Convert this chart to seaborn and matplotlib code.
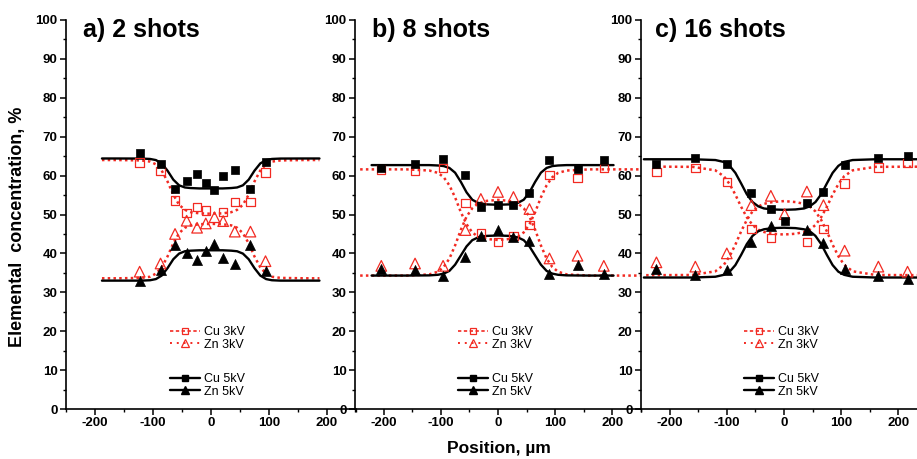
import numpy as np
import pandas as pd
import matplotlib
matplotlib.use('Agg')
import matplotlib.pyplot as plt
from matplotlib.lines import Line2D
from matplotlib.ticker import MultipleLocator
import seaborn as sns

# measured points: position (µm) and concentration (%)
pos_a = [-123, -87, -62, -42, -24, -9, 6, 21, 41, 68, 94]
cu5_a = [65.7, 63.0, 56.5, 58.7, 60.5, 58.1, 56.4, 60.0, 61.4, 56.6, 63.4]
cu3_a = [63.4, 61.2, 53.6, 50.3, 52.0, 51.0, np.nan, 50.7, 53.2, 53.2, 60.8]
zn3_a = [35.3, 37.4, 45.0, 48.4, 46.6, 47.7, 49.3, 48.3, 45.6, 45.6, 38.0]
zn5_a = [33.0, 35.7, 42.2, 40.2, 38.3, 40.7, 42.3, 38.8, 37.4, 42.1, 35.6]

pos_b = [-204, -145, -96, -57, -30, 0, 27, 55, 90, 139, 185]
cu5_b = [62.0, 62.9, 64.3, 60.2, 51.8, 52.5, 52.4, 55.4, 64.0, 61.7, 64.0]
cu3_b = [61.6, 61.2, 62.0, 52.9, 45.2, 43.0, 44.5, 47.3, 60.1, 59.3, 62.0]
zn3_b = [36.8, 37.4, 36.8, 46.0, 54.0, 55.8, 54.5, 51.4, 38.7, 39.4, 36.8]
zn5_b = [36.0, 35.7, 34.3, 39.0, 44.5, 46.0, 44.1, 43.2, 34.7, 37.0, 34.7]

pos_c = [-223, -155, -100, -57, -23, 1, 40, 69, 106, 165, 216]
cu5_c = [62.9, 64.4, 63.0, 55.6, 51.4, 48.4, 52.9, 55.8, 62.7, 64.4, 65.0]
cu3_c = [61.0, 62.0, 58.4, 46.3, 43.9, np.nan, 43.0, 46.3, 58.0, 62.1, 63.2]
zn3_c = [37.7, 36.6, 40.0, 52.4, 54.8, 50.1, 55.9, 52.4, 40.7, 36.6, 35.3]
zn5_c = [35.9, 34.4, 35.7, 43.0, 47.0, np.nan, 46.0, 42.8, 35.9, 34.3, 33.4]

fit_core = [-160, -120, -105, -95, -85, -75, -65, -55, -45, -35, -20, 0,
            20, 35, 45, 55, 65, 75, 85, 95, 105, 120, 160]

fit_cu5_a = [64.4, 64.4, 64.38, 64.28, 63.99, 63.13, 61.27, 58.96, 57.5, 56.95, 56.8, 56.7, 56.7,
             56.7, 56.8, 56.95, 57.5, 58.96, 61.27, 63.13, 63.99, 64.28, 64.38, 64.4, 64.4]
fit_cu3_a = [64.0, 64.0, 63.9, 63.6, 62.9, 61.3, 58.5, 55.1, 52.5, 51.2, 50.6, 50.3, 50.2,
             50.3, 50.6, 51.2, 52.5, 55.1, 58.5, 61.3, 62.9, 63.6, 63.9, 64.0, 64.0]
fit_zn3_a = [33.6, 33.6, 33.7, 34.0, 34.8, 36.4, 39.2, 42.6, 45.2, 46.6, 47.2, 47.5, 47.6,
             47.5, 47.2, 46.6, 45.2, 42.6, 39.2, 36.4, 34.8, 34.0, 33.7, 33.6, 33.6]
fit_zn5_a = [33.0, 33.0, 33.0, 33.1, 33.4, 34.3, 36.2, 38.5, 39.95, 40.55, 40.7, 40.8, 40.8,
             40.8, 40.7, 40.55, 39.95, 38.5, 36.2, 34.3, 33.4, 33.1, 33.0, 33.0, 33.0]

fit_cu5_b = [62.7, 62.7, 62.7, 62.6, 62.45, 61.97, 60.75, 58.4, 55.7, 53.8, 53.0, 52.6, 52.5,
             52.6, 53.0, 53.8, 55.7, 58.4, 60.75, 61.97, 62.45, 62.6, 62.7, 62.7, 62.7]
fit_cu3_b = [61.6, 61.6, 61.3, 60.7, 59.6, 57.5, 54.4, 50.6, 47.5, 45.4, 44.3, 43.7, 43.45,
             43.7, 44.3, 45.4, 47.5, 50.6, 54.4, 57.5, 59.6, 60.7, 61.3, 61.6, 61.6]
fit_zn3_b = [34.3, 34.3, 34.6, 35.3, 36.5, 38.65, 42.05, 46.05, 49.45, 51.6, 52.8, 53.5, 53.75,
             53.5, 52.8, 51.6, 49.45, 46.05, 42.05, 38.65, 36.5, 35.3, 34.6, 34.3, 34.3]
fit_zn5_b = [34.3, 34.3, 34.35, 34.5, 34.8, 35.5, 37.1, 39.45, 41.8, 43.4, 44.1, 44.5, 44.6,
             44.5, 44.1, 43.4, 41.8, 39.45, 37.1, 35.5, 34.8, 34.5, 34.35, 34.3, 34.3]

fit_cu5_c = [64.2, 64.2, 64.0, 63.5, 62.5, 60.7, 58.0, 55.2, 53.2, 52.1, 51.55, 51.3, 51.2,
             51.3, 51.55, 52.1, 53.2, 55.2, 58.0, 60.7, 62.5, 63.5, 64.0, 64.2, 64.2]
fit_cu3_c = [62.3, 62.25, 61.35, 59.8, 57.8, 55.1, 52.0, 49.3, 47.3, 46.1, 45.5, 45.05, 44.85,
             45.05, 45.5, 46.1, 47.3, 49.3, 52.0, 55.1, 57.8, 59.8, 61.35, 62.25, 62.3]
fit_zn3_c = [34.4, 34.45, 35.4, 37.1, 39.3, 42.25, 45.65, 48.6, 50.8, 52.05, 52.75, 53.2, 53.45,
             53.2, 52.75, 52.05, 50.8, 48.6, 45.65, 42.25, 39.3, 37.1, 35.4, 34.45, 34.4]
fit_zn5_c = [33.8, 33.8, 34.0, 34.5, 35.3, 37.0, 39.6, 42.4, 44.5, 45.7, 46.2, 46.5, 46.6,
             46.5, 46.2, 45.7, 44.5, 42.4, 39.6, 37.0, 35.3, 34.5, 34.0, 33.8, 33.8]

# end points of each fitted curve
ends_a = {'cu5': (-188, 187), 'zn5': (-188, 187), 'cu3': (-188, 187), 'zn3': (-188, 187)}
ends_b = {'cu5': (-221, 202), 'zn5': (-221, 202), 'cu3': (-241, 250), 'zn3': (-241, 250)}
ends_c = {'cu5': (-245, 250), 'zn5': (-245, 250), 'cu3': (-221, 250), 'zn3': (-241, 250)}

titles = ['a) 2 shots', 'b) 8 shots', 'c) 16 shots']
labels = ['Cu 3kV', 'Zn 3kV', 'Cu 5kV', 'Zn 5kV']

RED = '#f22a22'

sns.set_style('ticks')
plt.rcParams['font.family'] = ['Liberation Sans', 'DejaVu Sans']
plt.rcParams['font.weight'] = 'bold'
plt.rcParams['axes.unicode_minus'] = False
for k in ['text.color', 'axes.labelcolor', 'xtick.color', 'ytick.color']:
    plt.rcParams[k] = 'black'

fig = plt.figure(figsize=(9.17, 4.59), dpi=100)
fig.patch.set_facecolor('white')

# axes boxes in pixels: left, width (bottom at 409, top at 20)
boxes = [(66, 290), (355, 286), (641, 286)]
title_x = [0.058, 0.058, 0.05]

panels = [
    (pos_a, cu5_a, cu3_a, zn3_a, zn5_a, fit_cu5_a, fit_cu3_a, fit_zn3_a, fit_zn5_a, ends_a),
    (pos_b, cu5_b, cu3_b, zn3_b, zn5_b, fit_cu5_b, fit_cu3_b, fit_zn3_b, fit_zn5_b, ends_b),
    (pos_c, cu5_c, cu3_c, zn3_c, zn5_c, fit_cu5_c, fit_cu3_c, fit_zn3_c, fit_zn5_c, ends_c),
]

for i, (pos, cu5, cu3, zn3, zn5, f_cu5, f_cu3, f_zn3, f_zn5, ends) in enumerate(panels):
    left, width = boxes[i]
    ax = fig.add_axes([left / 917, 50 / 459, width / 917, 389 / 459])
    ax.set_facecolor('none')

    pts = pd.DataFrame({'x': pos, 'cu5': cu5, 'cu3': cu3, 'zn3': zn3, 'zn5': zn5})

    def fx(key):
        lo, hi = ends[key]
        return [lo] + fit_core + [hi]

    # fitted curves
    sns.lineplot(x=fx('cu3'), y=f_cu3, ax=ax, color=RED, linewidth=1.8,
                 linestyle=(0, (1, 1.3)), sort=False, zorder=2)
    sns.lineplot(x=fx('zn3'), y=f_zn3, ax=ax, color=RED, linewidth=1.8,
                 linestyle=(0, (1, 1.3)), sort=False, zorder=2)
    sns.lineplot(x=fx('cu5'), y=f_cu5, ax=ax, color='black', linewidth=1.7, sort=False, zorder=3)
    sns.lineplot(x=fx('zn5'), y=f_zn5, ax=ax, color='black', linewidth=1.7, sort=False, zorder=3)

    # measured points
    sns.scatterplot(data=pts, x='x', y='cu3', ax=ax, marker='s', s=36, facecolor='none',
                    edgecolor=RED, linewidth=0.9, zorder=4)
    sns.scatterplot(data=pts, x='x', y='zn3', ax=ax, marker='^', s=58, facecolor='none',
                    edgecolor=RED, linewidth=0.9, zorder=4)
    sns.scatterplot(data=pts, x='x', y='cu5', ax=ax, marker='s', s=34, color='black',
                    edgecolor='black', linewidth=0.5, zorder=5)
    sns.scatterplot(data=pts, x='x', y='zn5', ax=ax, marker='^', s=52, color='black',
                    edgecolor='black', linewidth=0.5, zorder=5)

    ax.set_xlim(-250, 250)
    ax.set_ylim(0, 100)
    ax.set_xlabel('')
    ax.set_ylabel('')
    ax.xaxis.set_major_locator(MultipleLocator(100))
    ax.xaxis.set_minor_locator(MultipleLocator(50))
    ax.yaxis.set_major_locator(MultipleLocator(10))
    ax.yaxis.set_minor_locator(MultipleLocator(5))
    ax.tick_params(which='major', direction='out', length=4, width=1.1,
                   labelsize=9.5, pad=2, color='black', labelcolor='black')
    ax.tick_params(which='minor', direction='out', length=2.5, width=1.0, color='black')
    sns.despine(ax=ax)
    for sp in ['left', 'bottom']:
        ax.spines[sp].set_linewidth(1.2)
        ax.spines[sp].set_color('black')

    ax.text(title_x[i], 1.005, titles[i], transform=ax.transAxes, fontsize=18,
            fontweight='bold', ha='left', va='top', color='black')

    # two small legends
    h3 = [Line2D([], [], color=RED, linestyle=(0, (2, 1.5)), linewidth=1.2, marker='s',
                 markersize=5, markerfacecolor='none', markeredgecolor=RED, markeredgewidth=0.9),
          Line2D([], [], color=RED, linestyle=(0, (1, 2.5)), linewidth=1.4, marker='^',
                 markersize=6, markerfacecolor='none', markeredgecolor=RED, markeredgewidth=0.9)]
    h5 = [Line2D([], [], color='black', linewidth=1.7, marker='s', markersize=5),
          Line2D([], [], color='black', linewidth=1.7, marker='^', markersize=6)]
    lg1 = ax.legend(h3, labels[:2], loc='center left', bbox_to_anchor=(0.36, 0.182),
                    frameon=False, prop={'size': 9, 'weight': 'normal'}, handlelength=2.4,
                    handletextpad=0.3, labelspacing=0.05, borderpad=0, borderaxespad=0)
    ax.add_artist(lg1)
    ax.legend(h5, labels[2:], loc='center left', bbox_to_anchor=(0.36, 0.061),
              frameon=False, prop={'size': 9, 'weight': 'normal'}, handlelength=2.4,
              handletextpad=0.3, labelspacing=0.05, borderpad=0, borderaxespad=0)

fig.text(18 / 917, 1 - 227 / 459, 'Elemental  concentration, %', rotation=90,
         ha='center', va='center', fontsize=13, fontweight='bold', color='black')
fig.text(499 / 917, 1 - 449 / 459, 'Position, µm', ha='center', va='center',
         fontsize=12.5, fontweight='bold', color='black')

fig.savefig('out.png', dpi=100)
